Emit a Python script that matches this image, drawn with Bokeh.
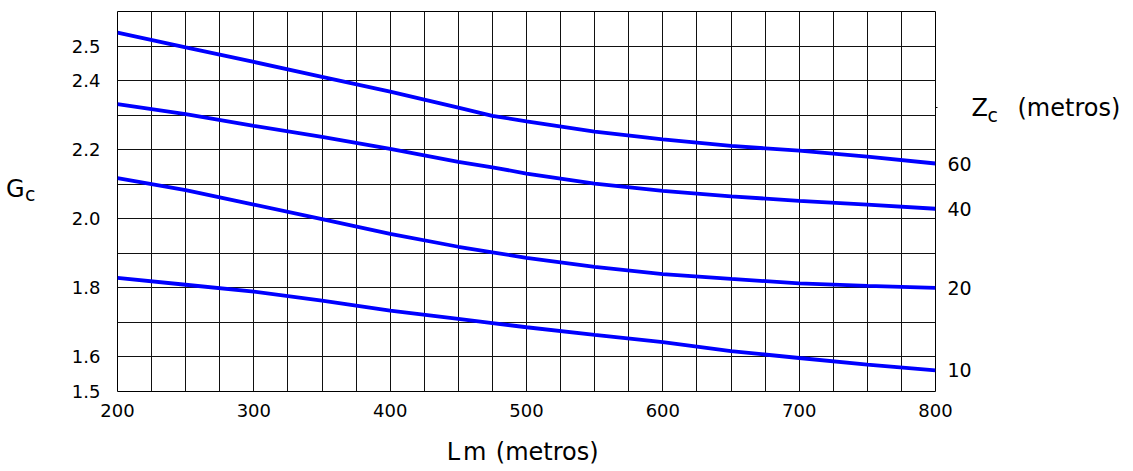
from bokeh.plotting import figure
from bokeh.models import FixedTicker, Range1d, LinearAxis, CustomJSTickFormatter
from bokeh.embed import file_html
from bokeh.resources import INLINE

# Data
L_m = [200, 250, 300, 350, 400, 450, 475, 500, 550, 600, 650, 700, 750, 800]
gc_60 = [2.539, 2.496, 2.454, 2.411, 2.368, 2.322, 2.298, 2.282, 2.252, 2.230, 2.211, 2.197, 2.180, 2.160]
gc_40 = [2.332, 2.303, 2.269, 2.237, 2.202, 2.165, 2.149, 2.131, 2.102, 2.081, 2.065, 2.052, 2.041, 2.029]
gc_20 = [2.118, 2.083, 2.041, 1.999, 1.956, 1.919, 1.903, 1.887, 1.861, 1.840, 1.826, 1.813, 1.806, 1.800]
gc_10 = [1.829, 1.809, 1.789, 1.763, 1.734, 1.710, 1.698, 1.686, 1.664, 1.643, 1.617, 1.597, 1.578, 1.561]
zc_labels = ["60", "40", "20", "10"]
series = [gc_60, gc_40, gc_20, gc_10]

x_ticks = [200, 300, 400, 500, 600, 700, 800]
x_grid = [200, 225, 250, 275, 300, 325, 350, 375, 400, 425, 450, 475, 500,
          525, 550, 575, 600, 625, 650, 675, 700, 725, 750, 775, 800]
y_ticks = [1.5, 1.6, 1.8, 2.0, 2.2, 2.4, 2.5]
y_grid = [1.5, 1.6, 1.7, 1.8, 1.9, 2.0, 2.1, 2.2, 2.3, 2.4, 2.5, 2.6]
zc_title_level = 2.321

FONT = "DejaVu Sans"

p = figure(width=1130, height=470, output_backend="svg", toolbar_location=None,
           x_range=Range1d(200, 800), y_range=Range1d(1.5, 2.6),
           min_border_left=117, min_border_right=195, min_border_top=11, min_border_bottom=79)
p.outline_line_color = "black"
p.outline_line_width = 1
p.background_fill_color = "white"

for s in series:
    p.line(L_m, s, line_color="#0000ff", line_width=3.8)

p.xaxis.ticker = FixedTicker(ticks=x_ticks)
p.yaxis.ticker = FixedTicker(ticks=y_ticks)
p.xgrid.ticker = FixedTicker(ticks=x_grid)
p.ygrid.ticker = FixedTicker(ticks=y_grid)
for g in (p.xgrid, p.ygrid):
    g.grid_line_color = "#111111"
    g.grid_line_width = 1
    g.grid_line_alpha = 1

p.yaxis.formatter = CustomJSTickFormatter(code="return tick.toFixed(1);")


def style(ax, size, standoff):
    ax.axis_line_color = None
    ax.major_tick_line_color = None
    ax.minor_tick_line_color = None
    ax.major_tick_out = 0
    ax.major_tick_in = 0
    ax.minor_tick_out = 0
    ax.minor_tick_in = 0
    ax.major_label_text_font = FONT
    ax.major_label_text_font_size = size
    ax.major_label_text_color = "black"
    ax.major_label_standoff = standoff


style(p.xaxis[0], "18px", 12)
style(p.yaxis[0], "18px", 17)

# right axis: curve labels (Zc values) at the end of each curve,
# plus the small mark at the level of the Zc title
ends = [s[-1] for s in series]
raxis = LinearAxis(ticker=FixedTicker(ticks=ends, minor_ticks=[zc_title_level]),
                   major_label_overrides={e: t for e, t in zip(ends, zc_labels)})
style(raxis, "19px", 10)
raxis.minor_tick_line_color = "black"
raxis.minor_tick_out = 2
p.add_layout(raxis, "right")


def text_axis(side, ticks, texts, size, standoff):
    ax = LinearAxis(ticker=FixedTicker(ticks=ticks),
                    major_label_overrides={t: s for t, s in zip(ticks, texts)})
    style(ax, size, standoff)
    p.add_layout(ax, side)
    return ax


# Y-axis title "Gc" (G with subscript c), stacked outside the tick labels
text_axis("left", [2.072], ["c"], "19px", 33)
text_axis("left", [2.087], ["G"], "24px", -2)
# Right title "Zc (metros)"
text_axis("right", [zc_title_level], ["Z"], "24px", -3)
text_axis("right", [2.300], ["c"], "19px", -3)
text_axis("right", [zc_title_level], ["(metros)"], "24px", 17)
# X-axis title "Lm (metros)"
text_axis("below", [446.4, 462.0, 515.2], ["L", "m", "(metros)"], "24px", 18)

open("out.html", "w").write(file_html(p, INLINE))
